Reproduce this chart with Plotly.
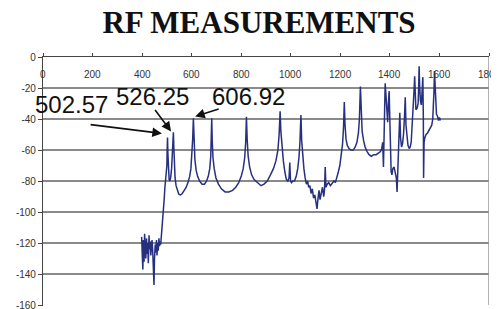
import plotly.graph_objects as go

freq = [398, 400, 403, 405, 408, 410, 413, 415, 418, 420, 423, 425, 428, 430, 433, 435, 438, 440, 443, 445,
        448, 450, 453, 455, 458, 460, 463, 465, 468, 470, 473, 475, 478, 480,
        483, 486, 489, 492, 495, 498, 500, 501, 502.57, 504, 506, 509, 512, 515, 519, 522, 524.5, 526.25,
        528, 530, 533, 537, 542, 548, 555, 562, 570, 578, 585, 592, 597, 601, 604, 606.92,
        609.5, 613, 618, 624, 632, 642, 652, 660, 667, 673, 677, 679.5, 681, 683, 686, 691, 698, 708,
        720, 735, 750, 765, 778, 790, 800, 808, 814, 818, 821, 824, 828, 834, 842, 852, 865, 880, 892,
        905, 918, 930, 940, 948, 953, 957, 960, 964, 970, 976, 982, 988, 993, 996, 999, 1003, 1008, 1015,
        1022, 1028, 1033, 1037, 1041, 1044, 1048, 1053, 1058, 1063, 1068, 1072, 1077, 1082, 1087, 1092,
        1097, 1102, 1106, 1110, 1114, 1118, 1123, 1128, 1133, 1136, 1139, 1142, 1147, 1153, 1160, 1167,
        1174, 1180, 1186, 1192, 1198, 1204, 1209, 1213, 1216, 1219, 1223, 1228, 1235, 1243, 1252, 1260,
        1267, 1273, 1277, 1281, 1284, 1288, 1294, 1300, 1308, 1316, 1325, 1335, 1345, 1355, 1362, 1367,
        1371, 1374, 1376, 1378, 1381, 1384, 1388, 1391, 1394, 1397, 1399, 1402, 1405, 1408, 1412, 1417,
        1422, 1426, 1429, 1432, 1435, 1438, 1440, 1443, 1447, 1451, 1455, 1459, 1462, 1465, 1469, 1473,
        1478, 1482, 1486, 1490, 1493, 1496, 1498, 1500, 1502, 1505, 1510, 1514, 1516, 1518, 1520, 1523,
        1527, 1530, 1533, 1535, 1536, 1538, 1541, 1546, 1552, 1558, 1564, 1569, 1573, 1576, 1578, 1580,
        1582, 1585, 1588, 1592, 1596, 1600, 1604]

level = [-116, -128, -137, -118, -132, -114, -125, -130, -117, -127, -120, -133, -115, -124, -119, -128, -122, -118, -126, -135,
         -147, -130, -121, -126, -118, -128, -120, -125, -117, -122, -119, -121, -115, -113,
         -108, -100, -92, -84, -79, -75, -70, -60, -52, -62, -74, -79, -80, -78, -72, -64, -56, -48.5,
         -58, -70, -78, -83, -86, -88.5, -89, -88, -86, -84, -81, -77, -72, -64, -53, -39.5,
         -55, -66, -73, -77, -80, -82, -82, -80, -77, -72, -64, -53, -39.5, -54, -65, -72, -78, -82,
         -85, -87, -87, -86, -84, -81, -77, -72, -65, -55, -38.5, -53, -64, -71, -76, -79, -81, -83, -82,
         -80, -76, -72, -67, -60, -50, -35, -48, -58, -67, -74, -79, -80, -78, -68, -80, -81, -80, -80,
         -77, -72, -65, -55, -37.5, -54, -63, -72, -78, -82, -80, -84, -83, -88, -85, -91,
         -89, -96, -98, -91, -86, -92, -87, -84, -90, -86, -71, -84, -82, -81, -83, -81,
         -80, -81, -78, -74, -70, -64, -56, -45, -29, -44, -53, -57, -59, -60, -60, -58,
         -55, -49, -40, -19, -38, -48, -54, -58, -61, -63, -64, -63, -63, -62, -61, -59,
         -55, -71, -50, -25, -17, -24, -38, -42, -30, -22, -35, -58, -74, -76, -72, -71,
         -74, -78, -87, -70, -56, -50, -36, -52, -58, -56, -50, -38, -26, -44, -54, -57,
         -59, -58, -55, -45, -38, -30, -20, -12.5, -28, -34, -33, -30, -20, -6, -18, -28,
         -31, -24, -13, -40, -78, -55, -52, -50, -49, -47, -46, -44, -40, -33, -22, -9,
         -20, -33, -37, -38, -41, -39, -41]

x_ticks = [0, 200, 400, 600, 800, 1000, 1200, 1400, 1600, 1800]
y_ticks = [0, -20, -40, -60, -80, -100, -120, -140, -160]

peak_labels = ["502.57", "526.25", "606.92"]
label_pos = [(115, -30.6), (440, -25.5), (828, -25.5)]
arrow_tail = [(186, -43.5), (448, -33.2), (715, -33.2)]
arrow_head = [(480, -49.3), (517, -48.0), (614, -38.4)]

fig = go.Figure()
fig.add_trace(go.Scatter(x=freq, y=level, mode="lines",
                         line=dict(color="#27307f", width=1.5), showlegend=False))

annotations = []
for txt, (lx, ly) in zip(peak_labels, label_pos):
    annotations.append(dict(x=lx, y=ly, xref="x", yref="y", text=txt, showarrow=False,
                            font=dict(family="Liberation Sans, Arial", size=24, color="#111")))
for (tx, ty), (hx, hy) in zip(arrow_tail, arrow_head):
    annotations.append(dict(x=hx, y=hy, ax=tx, ay=ty, xref="x", yref="y", axref="x", ayref="y",
                            text="", showarrow=True, arrowhead=2, arrowsize=1.2, arrowwidth=1.6,
                            arrowcolor="#111"))
# x tick labels drawn inside the plot, just under the top axis line
for v in x_ticks:
    annotations.append(dict(x=v, y=1, xref="x", yref="paper", text=str(v), showarrow=False,
                            xanchor="center", yanchor="top", yshift=-10,
                            font=dict(family="Liberation Sans, Arial", size=10, color="#333")))

# the page has an 8px body margin, so the figure is laid out shifted 8px up/left
fig.update_layout(
    width=499, height=309,
    margin=dict(l=35, r=18, t=49, b=11, autoexpand=False),
    paper_bgcolor="white", plot_bgcolor="white",
    title=dict(text="<b>RF MEASUREMENTS</b>", x=251 / 499, xref="container", xanchor="center",
               y=1 - 14 / 309, yref="container", yanchor="middle",
               font=dict(family="Liberation Serif, Times New Roman", size=31, color="#111")),
    annotations=annotations,
    shapes=[dict(type="line", xref="x", yref="y", x0=1800, x1=1800, y0=-160, y1=0,
                 line=dict(color="#999", width=1.5))],
    xaxis=dict(range=[0, 1800], side="top", tickvals=x_ticks, showticklabels=False,
               ticks="outside", ticklen=3, tickcolor="#444", automargin=False,
               showline=True, linecolor="#444", linewidth=1.2, showgrid=False, zeroline=False),
    yaxis=dict(range=[-160.6, 0], tickvals=y_ticks, ticktext=[str(v) for v in y_ticks],
               ticks="outside", ticklen=4, tickcolor="#444", showline=True, linecolor="#444",
               automargin=False,
               linewidth=1.2, showgrid=True, gridcolor="#8a8a8a", gridwidth=1.5, zeroline=False,
               tickfont=dict(family="Liberation Sans, Arial", size=10, color="#333")),
)

fig.write_html("out.html")
